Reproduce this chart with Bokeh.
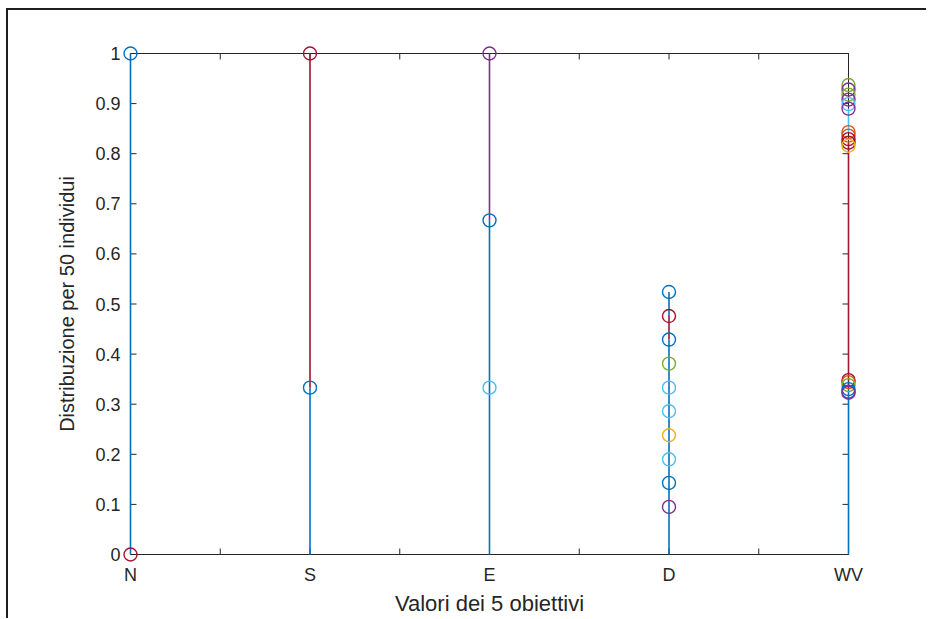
import numpy as np
from bokeh.plotting import figure
from bokeh.models import Range1d, FixedTicker
from bokeh.embed import file_html
from bokeh.resources import INLINE

BLUE = "#0072BD"; ORANGE = "#D95319"; YELLOW = "#EDB120"; PURPLE = "#7E2F8E"
GREEN = "#77AC30"; LBLUE = "#4DBEEE"; RED = "#A2142F"

categories = ["N", "S", "E", "D", "WV"]

# ---- marker values per objective ----
n_vals = [1.0, 0.0]
n_cols = [BLUE, RED]
s_vals = [1.0, 0.333]
s_cols = [RED, BLUE]
e_vals = [1.0, 0.667, 0.333]
e_cols = [PURPLE, BLUE, LBLUE]
d_vals = [0.524, 0.476, 0.429, 0.381, 0.333, 0.286, 0.238, 0.190, 0.143, 0.095]
d_cols = [BLUE, RED, BLUE, GREEN, LBLUE, LBLUE, YELLOW, LBLUE, BLUE, PURPLE]
wv_vals = [0.937, 0.928, 0.918, 0.908, 0.899, 0.890,
           0.843, 0.836, 0.829, 0.822, 0.816,
           0.348, 0.344, 0.338, 0.330, 0.325, 0.323]
wv_cols = [GREEN, PURPLE, GREEN, PURPLE, LBLUE, PURPLE,
           ORANGE, ORANGE, RED, RED, YELLOW,
           RED, ORANGE, GREEN, BLUE, BLUE, PURPLE]

# ---- line segments per objective ----
seg_cat = ["N", "S", "S", "E", "E", "D", "D", "D", "WV", "WV", "WV"]
seg_y0 = [0.0, 0.0, 0.333, 0.0, 0.667, 0.0, 0.429, 0.476, 0.0, 0.330, 0.843]
seg_y1 = [1.0, 0.333, 1.0, 0.667, 1.0, 0.429, 0.476, 0.524, 0.330, 0.822, 0.890]
seg_col = [BLUE, BLUE, RED, BLUE, PURPLE, BLUE, RED, BLUE, BLUE, RED, LBLUE]

y_ticks = [0.0, 0.1, 0.2, 0.3, 0.4, 0.5, 0.6, 0.7, 0.8, 0.9, 1.0]
y_tick_labels = ["0", "0.1", "0.2", "0.3", "0.4", "0.5", "0.6", "0.7", "0.8", "0.9", "1"]
x_minor = [1.0, 1.5, 2.0, 2.5, 3.0, 3.5, 4.0, 4.5, 5.0]

# ---- build plotting arrays ----
groups = [(n_vals, n_cols), (s_vals, s_cols), (e_vals, e_cols), (d_vals, d_cols), (wv_vals, wv_cols)]
mx, my, mc = [], [], []
for i, (vals, cols) in enumerate(groups):
    for v, c in zip(vals, cols):
        mx.append(i + 1); my.append(v); mc.append(c)
sx = [categories.index(c) + 1 for c in seg_cat]

xmin, xmax = 1, len(categories)
ymin, ymax = 0.0, 1.0

FONT = "Liberation Sans"
TXT = "#262626"

pad_x = 9 / 179.5
pad_y = 9 / 501.0
p = figure(frame_width=736, frame_height=519,
           min_border_left=113, min_border_right=69, min_border_top=34, min_border_bottom=46,
           x_range=Range1d(xmin - pad_x, xmax + pad_x),
           y_range=Range1d(ymin - pad_y, ymax + pad_y),
           output_backend="svg", toolbar_location=None)
p.styles = {"margin-top": "8px", "margin-left": "6px",
            "border-top": "2px solid #1e1e1e", "border-left": "2px solid #1e1e1e"}
p.outline_line_color = None
p.xgrid.visible = False
p.ygrid.visible = False
p.background_fill_color = "white"
p.border_fill_color = "white"

# axes (labels only; box drawn at data limits)
p.xaxis.ticker = FixedTicker(ticks=[float(i + 1) for i in range(len(categories))])
p.xaxis.major_label_overrides = {i + 1: c for i, c in enumerate(categories)}
p.yaxis.ticker = FixedTicker(ticks=y_ticks)
p.yaxis.major_label_overrides = {t: l for t, l in zip(y_ticks, y_tick_labels)}
for ax in (p.xaxis[0], p.yaxis[0]):
    ax.axis_line_color = None
    ax.major_tick_line_color = None
    ax.minor_tick_line_color = None
    ax.major_tick_in = 0
    ax.major_tick_out = 0
    ax.major_label_text_font = FONT
    ax.major_label_text_color = TXT
    ax.major_label_text_font_size = "18px"
    ax.axis_label_text_font = FONT
    ax.axis_label_text_color = TXT
    ax.axis_label_text_font_style = "normal"
p.xaxis.axis_label = "Valori dei 5 obiettivi"
p.yaxis.axis_label = "Distribuzione per 50 individui"
p.xaxis.axis_label_text_font_size = "22px"
p.yaxis.axis_label_text_font_size = "20px"
p.yaxis.major_label_standoff = 1
p.xaxis.major_label_standoff = 1
p.yaxis.axis_label_standoff = 14
p.xaxis.axis_label_standoff = 3

# axes box
BOX = "#262626"
p.segment(x0=[xmin, xmin, xmin, xmax], y0=[ymin, ymax, ymin, ymin],
          x1=[xmax, xmax, xmin, xmax], y1=[ymin, ymax, ymax, ymax],
          line_color=BOX, line_width=1)
# tick marks (inward)
p.ray(x=x_minor, y=[ymin] * len(x_minor), length=6, angle=np.pi / 2, length_units="screen",
      line_color=BOX, line_width=1)
p.ray(x=x_minor, y=[ymax] * len(x_minor), length=6, angle=-np.pi / 2, length_units="screen",
      line_color=BOX, line_width=1)
p.ray(x=[xmin] * len(y_ticks), y=y_ticks, length=6, angle=0, length_units="screen",
      line_color=BOX, line_width=1)
p.ray(x=[xmax] * len(y_ticks), y=y_ticks, length=6, angle=np.pi, length_units="screen",
      line_color=BOX, line_width=1)

# data lines
p.segment(x0=sx, y0=seg_y0, x1=sx, y1=seg_y1, line_color=seg_col, line_width=1.6)
# markers
p.scatter(x=mx, y=my, marker="circle", size=13, fill_color=None,
          line_color=mc, line_width=1.4)

open("out.html", "w").write(file_html(p, INLINE))
